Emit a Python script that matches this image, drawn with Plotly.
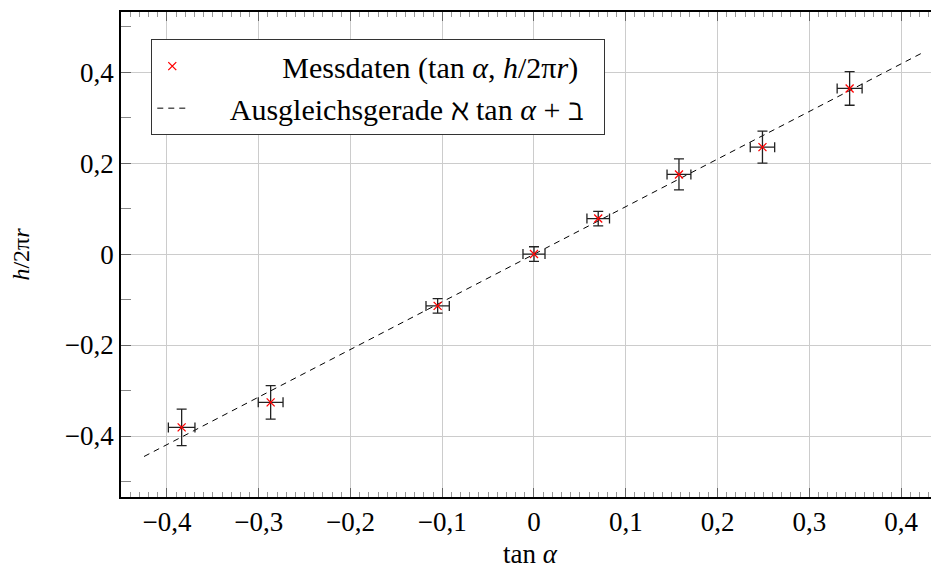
import plotly.graph_objects as go

# Measurement data
tan_alpha = [-0.384, -0.287, -0.105, 0.0, 0.070, 0.158, 0.249, 0.344]
h_over_2pir = [-0.381, -0.326, -0.114, 0.0, 0.078, 0.175, 0.235, 0.364]
err_x = [0.0145, 0.0135, 0.0127, 0.012, 0.0123, 0.013, 0.0133, 0.0136]
err_y = [0.040, 0.037, 0.016, 0.016, 0.016, 0.034, 0.035, 0.037]

# Fit line endpoints
fit_x = [-0.425, 0.424]
fit_y = [-0.445, 0.443]

x_ticks = [-0.4, -0.3, -0.2, -0.1, 0, 0.1, 0.2, 0.3, 0.4]
x_ticktext = ["\u22120,4", "\u22120,3", "\u22120,2", "\u22120,1", "0", "0,1", "0,2", "0,3", "0,4"]
y_ticks = [-0.4, -0.2, 0, 0.2, 0.4]
y_ticktext = ["\u22120,4", "\u22120,2", "0", "0,2", "0,4"]

FONT = "Liberation Serif"
NB = "\u00a0"

fig = go.Figure()

fig.add_trace(go.Scatter(
    x=fit_x, y=fit_y, mode="lines",
    line=dict(color="black", width=1, dash="6px,5px"),
    name=NB * 5 + "Ausgleichsgerade ℵ tan <i>α</i> + ℶ" + NB * 2,
    legendrank=2,
))

fig.add_trace(go.Scatter(
    x=tan_alpha, y=h_over_2pir, mode="markers",
    marker=dict(symbol="x-thin", size=8, color="red", line=dict(color="red", width=1.3)),
    error_x=dict(type="data", array=err_x, color="#222222", thickness=1.3, width=5),
    error_y=dict(type="data", array=err_y, color="#222222", thickness=1.3, width=5),
    name=NB * 12 + "Messdaten (tan <i>α</i>, <i>h</i>/2π<i>r</i>)",
    legendrank=1,
))

fig.update_layout(
    width=931, height=563,
    margin=dict(l=113, r=0, t=4, b=74),
    paper_bgcolor="white", plot_bgcolor="white",
    font=dict(family=FONT, size=27, color="black"),
    showlegend=True,
    legend=dict(
        x=0.037, y=0.944, xanchor="left", yanchor="top",
        bgcolor="white", bordercolor="#333333", borderwidth=1,
        font=dict(family=FONT, size=30),
        tracegroupgap=0, itemwidth=30,
    ),
)

fig.update_xaxes(
    range=[-0.4501, 0.4414],
    tickvals=x_ticks, ticktext=x_ticktext,
    showgrid=True, gridcolor="#cccccc", gridwidth=1,
    zeroline=False,
    showline=True, linecolor="black", linewidth=1.5, mirror="allticks",
    ticks="inside", ticklen=9, tickcolor="#666666", tickwidth=1,
    minor=dict(dtick=0.01, tick0=0, ticks="inside", ticklen=5, tickcolor="#999999", tickwidth=1, showgrid=False),
    title=dict(text="tan <i>α</i>", standoff=8, font=dict(size=27)),
    tickfont=dict(size=27),
)

fig.update_yaxes(
    range=[-0.534, 0.532],
    tickvals=y_ticks, ticktext=y_ticktext,
    showgrid=True, gridcolor="#cccccc", gridwidth=1,
    zeroline=False,
    showline=True, linecolor="black", linewidth=1.5, mirror=False,
    ticks="inside", ticklen=10, tickcolor="#666666", tickwidth=1,
    minor=dict(dtick=0.1, tick0=0, ticks="inside", ticklen=10, tickcolor="#888888", tickwidth=1, showgrid=False),
    title=dict(text="<i>h</i>/2π<i>r</i>", standoff=30, font=dict(size=24)),
    tickfont=dict(size=27),
)

fig.write_html("out.html")
